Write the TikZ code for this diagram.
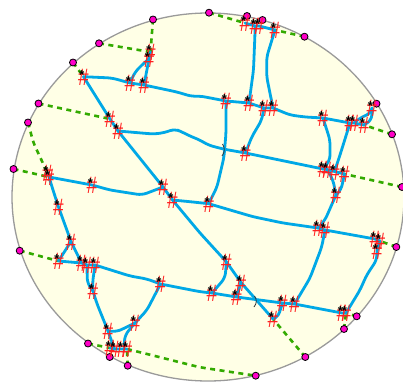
\documentclass[tikz,border=0pt]{standalone}
\usepackage{graphicx}
\usepackage{fontspec}
\setmainfont{Liberation Sans}
\definecolor{land}{HTML}{FFFFE6}
\definecolor{rim}{HTML}{9A9A9A}
\definecolor{road}{HTML}{00A8E6}
\definecolor{trail}{HTML}{33AA00}
\definecolor{gate}{HTML}{FF00C8}
\definecolor{hashred}{HTML}{FF2020}
\tikzset{
  junction/.style={inner sep=0pt,minimum size=0pt,outer sep=0pt},
  roadline/.style={draw=road,line width=2.8pt,rounded corners=5pt,line cap=round},
  trailline/.style={draw=trail,line width=2.6pt,dash pattern=on 5pt off 4.5pt,rounded corners=5pt},
  gatedot/.style={circle,draw=black,fill=gate,line width=0.8pt,minimum size=7pt,inner sep=0pt,outer sep=0pt},
  hashmark/.style={text=hashred,inner sep=0pt,font=\fontsize{19}{19}\selectfont},
  starmark/.style={text=black,inner sep=0pt,font=\fontsize{13}{13}\selectfont\bfseries},
  tick/.style={draw=black!80,line width=0.8pt}
}
\begin{document}
\begin{tikzpicture}[x=1pt,y=-1pt]
\useasboundingbox (0,0) rectangle (403,382);
\filldraw[fill=land,draw=rim,line width=1.3pt] (208,197) ellipse [x radius=196,y radius=184];
% junctions
\foreach \n/\x/\y in {
 a/83.5/76.7, b/130/83, c/144/85, d/150.5/52, e/149/59, f/110/119, g/118/131, h/163/187,
 i/47.5/173, j/49/177, k/92/185, l/58.5/207, m/71/241.5, n/58.5/261, o/81.5/263, p/87/265, q/95/265,
 r/93/291, s/160.5/284, t/108/331, u/135/323, v/110/348, w/114.5/349, x/122/349, y/127/349, z/172.5/200,
 aa/245/23, ab/255/26, ac/259/26, ad/275/30, ae/226/101, af/249/103, ag/264/108, ah/273/108,
 ai/323/118, aj/350/123, ak/354/123, al/364/125, am/372/108, an/245.5/153, ao/323/169, ap/327/169.5,
 aq/334.5/171.5, ar/344.5/174, as/336/195, at/208.7/203.7, au/318/228, av/325/230, aw/375/239, ax/380/241,
 ay/377/251, az/226.5/262, ba/241/282.5, bb/212/293, bc/236.5/297, bd/273/319, be/282.5/303, bf/294.5/304,
 bg/342/313, bh/346/313}
 {\node[junction] (\n) at (\x,\y) {};}
% gates
\foreach \n/\x/\y in {
 g1/153/19.5, g2/99/43.3, g3/73/62.5, g4/38.5/103.5, g5/28/122.5, g6/13.5/169, g7/19.7/250.7,
 g8/88/343.5, g9/109.7/357, g10/127.7/365.7, g11/255.7/375.7, g12/305.3/357, g13/344/329, g14/356.7/316.3,
 g15/396.3/247, g16/402/187, g17/392/134.3, g18/376.5/103.7, g19/304.5/36.7, g20/262.5/20, g21/247/16, g22/209/12.7}
 {\node[junction] (p\n) at (\x,\y) {};}
% trails
\draw[trailline] (pg1) -- (d);
\draw[trailline] (pg2) -- (d);
\draw[trailline] (pg3) -- (a);
\draw[trailline] (pg4) -- (f);
\draw[trailline] (pg5) -- (33.5,143) -- (47.5,173);
\draw[trailline] (pg6) -- (j);
\draw[trailline] (pg7) -- (n);
\draw[trailline] (pg8) -- (v);
\draw[trailline] (pg10) -- (y);
\draw[trailline] (y) -- (200,367.3) -- (233,372.3) -- (pg11);
\draw[trailline] (pg12) -- (bd);
\draw[trailline] (pg13) -- (bh);
\draw[trailline] (pg14) -- (bh);
\draw[trailline] (pg15) -- (ax);
\draw[trailline] (pg16) -- (ar);
\draw[trailline] (pg17) -- (al);
\draw[trailline] (pg19) -- (ad);
\draw[trailline] (pg22) -- (aa);
% roads
\draw[roadline] (a) -- (112,78) -- (b) -- (c) -- (177,92) -- (192,96.5) -- (200,96) -- (ae) -- (af) -- (ag) -- (ah) -- (290,115) -- (305,117) -- (ai) -- (aj) -- (ak) -- (al);
\draw[roadline] (a) -- (f) -- (g) -- (h) -- (z) -- (200,233) -- (az) -- (ba) -- (bd);
\draw[roadline] (g) -- (153,134) -- (163,133) -- (175,129) -- (182,132) -- (192,137) -- (200,140) -- (208,145) -- (223,149) -- (an) -- (ao) -- (ap) -- (aq) -- (ar);
\draw[roadline] (j) -- (k) -- (110,190) -- (142,195) -- (h);
\draw[roadline] (i) -- (j) -- (53,190) -- (l) -- (m) -- (o);
\draw[roadline] (m) -- (n);
\draw[roadline] (n) -- (o) -- (p) -- (q) -- (130,276) -- (147,279) -- (s) -- (200,291.7) -- (bb) -- (bc) -- (be) -- (bf) -- (bg) -- (bh);
\draw[roadline] (p) -- (87.3,283) -- (r);
\draw[roadline] (q) -- (92.5,283) -- (r);
\draw[roadline] (r) -- (96.7,303) -- (t) -- (w);
\draw[roadline] (t) -- (117,331.7) -- (u);
\draw[roadline] (u) -- (125,335) -- (124,347);
\draw[roadline] (u) -- (147,310) -- (s);
\draw[roadline] (v) -- (w) -- (x) -- (y);
\draw[roadline] (e) -- (c);
\draw[roadline] (d) -- (e);
\draw[roadline] (e) -- (145,62) -- (135,72) -- (b);
\draw[roadline] (aa) -- (ab) -- (ac) -- (ad);
\draw[roadline] (ab) -- (255,33) -- (253.5,70) -- (af);
\draw[roadline] (ad) -- (266.7,57) -- (266.7,77) -- (ah);
\draw[roadline] (ag) -- (261.7,120) -- (251.7,137) -- (an);
\draw[roadline] (ae) -- (226,133) -- (224,157) -- (217,187) -- (at);
\draw[roadline] (z) -- (190,201.7) -- (at) -- (253,216.7) -- (283,223) -- (au) -- (av) -- (aw) -- (ax);
\draw[roadline] (ai) -- (330,140) -- (330,160) -- (ao);
\draw[roadline] (ap) -- (333,180) -- (as);
\draw[roadline] (ar) -- (341,190) -- (as);
\draw[roadline] (aj) -- (340,155) -- (aq);
\draw[roadline] (as) -- (325,220) -- (au);
\draw[roadline] (av) -- (321.7,247) -- (310,278) -- (bf);
\draw[roadline] (ak) -- (360,118) -- (371,113) -- (am);
\draw[roadline] (al) -- (371.7,120) -- (am);
\draw[roadline] (ax) -- (ay) -- (376.7,260) -- (366.7,275) -- (360,290) -- (bh);
\draw[roadline] (az) -- (225,278) -- (bb);
\draw[roadline] (ba) -- (bc);
\draw[roadline] (bd) -- (278,317) -- (be);
% small ticks
\draw[tick] (222.5,144) .. controls (225,148) and (225,152) .. (222,156);
\draw[tick] (254.5,296) .. controls (257,300) and (257,303) .. (254,307);
% gate dots
\foreach \n in {g1,g2,g3,g4,g5,g6,g7,g8,g9,g10,g11,g12,g13,g14,g15,g16,g17,g18,g19,g20,g21,g22}
 {\node[gatedot] (d\n) at (p\n) {};}
% marks
\foreach \n in {a,b,c,d,e,f,g,h,i,j,k,l,m,n,o,p,q,r,s,t,u,v,w,x,y,z,aa,ab,ac,ad,ae,af,ag,ah,ai,aj,ak,al,am,an,ao,ap,aq,ar,as,at,au,av,aw,ax,ay,az,ba,bb,bc,bd,be,bf,bg,bh}
 {\node[hashmark] (h\n) at ([shift={(0,0.5)}]\n) {\scalebox{1}[1.25]{\#}};}
\foreach \n in {a,b,c,d,e,f,g,h,i,j,k,l,m,n,o,p,q,r,s,t,u,v,w,x,y,z,aa,ab,ac,ad,ae,af,ag,ah,ai,aj,ak,al,am,an,ao,ap,aq,ar,as,at,au,av,aw,ax,ay,az,ba,bb,bc,bd,be,bf,bg,bh}
 {\node[starmark] (s\n) at ([shift={(-1.5,-1.5)}]\n) {*};}
\end{tikzpicture}
\end{document}
